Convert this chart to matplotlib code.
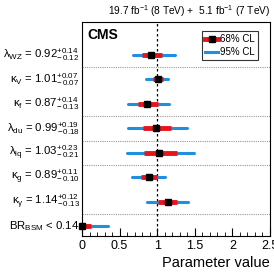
import matplotlib
matplotlib.use("Agg")
import matplotlib.pyplot as plt
from matplotlib.ticker import MultipleLocator, FuncFormatter
from matplotlib.lines import Line2D

plt.rcParams["font.family"] = ["Liberation Sans", "DejaVu Sans"]
plt.rcParams["mathtext.fontset"] = "custom"
plt.rcParams["mathtext.rm"] = "Liberation Sans"
plt.rcParams["mathtext.it"] = "Liberation Sans"
plt.rcParams["mathtext.bf"] = "Liberation Sans:bold"

names = [r"$\lambda_{\mathrm{WZ}}$", r"$\kappa_{\mathrm{V}}$", r"$\kappa_{\mathrm{f}}$", r"$\lambda_{\mathrm{du}}$",
         r"$\lambda_{\mathrm{lq}}$", r"$\kappa_{\mathrm{g}}$", r"$\kappa_{\gamma}$"]
best = [0.92, 1.01, 0.87, 0.99, 1.03, 0.89, 1.14]
up68 = [0.14, 0.07, 0.14, 0.19, 0.23, 0.11, 0.12]
dn68 = [0.12, 0.07, 0.13, 0.18, 0.21, 0.10, 0.13]
lo95 = [0.68, 0.85, 0.61, 0.61, 0.60, 0.67, 0.87]
hi95 = [1.24, 1.15, 1.16, 1.40, 1.49, 1.11, 1.41]
br_best = 0.0
br_68 = 0.12
br_95 = 0.34
br_label = r"BR$_{\mathrm{BSM}}$ < 0.14"
separators = [6.5, 4.5, 3.5, 2.5, 0.5]

fig = plt.figure(figsize=(2.74, 2.72), dpi=100)
ax = fig.add_axes([82/274, 1-236/272, 188/274, 214/272])
ax.set_xlim(0, 2.5)
ax.set_ylim(-0.4, 8.35)

blue = "#1f8fe0"
red = "#e8141a"
n = len(names)
for i in range(n):
    y = n - i
    ax.plot([lo95[i], hi95[i]], [y, y], color=blue, lw=2.2, solid_capstyle="round", zorder=3)
    ax.plot([best[i]-dn68[i], best[i]+up68[i]], [y, y], color=red, lw=3.5, solid_capstyle="butt", zorder=4)
    ax.plot(best[i], y, "s", color="black", ms=5, zorder=5)
    ax.text(-0.03, y, names[i] + r" = %.2f$^{+%.2f}_{-\,%.2f}$" % (best[i], up68[i], dn68[i]),
            ha="right", va="center", fontsize=8.2)
ax.plot([0, br_95], [0, 0], color=blue, lw=2.2, solid_capstyle="round", zorder=3, clip_on=False)
ax.plot([0, br_68], [0, 0], color=red, lw=3.5, solid_capstyle="butt", zorder=4, clip_on=False)
ax.plot(br_best, 0, "s", color="black", ms=5, zorder=5, clip_on=False)
ax.text(-0.03, 0, br_label, ha="right", va="center", fontsize=8.2)

for s in separators:
    ax.axhline(s, color="#999999", lw=0.8, ls=(0, (1, 1)), zorder=1)
ax.axvline(1.0, color="black", lw=0.9, ls=(0, (2, 2)), zorder=2)

ax.set_yticks([])
ax.xaxis.set_major_locator(MultipleLocator(0.5))
ax.xaxis.set_minor_locator(MultipleLocator(0.1))
ax.xaxis.set_major_formatter(FuncFormatter(lambda v, p: "%g" % round(v, 2)))
ax.tick_params(axis="x", which="major", direction="in", length=6, labelsize=9, top=False, pad=3)
ax.tick_params(axis="x", which="minor", direction="in", length=3, top=False)
ax.set_xlabel("Parameter value", fontsize=10.5, loc="right", labelpad=3)

ax.text(0.03, 0.97, "CMS", transform=ax.transAxes, ha="left", va="top",
        fontsize=10, fontweight="bold")
ax.text(1.0, 1.015, r"19.7 fb$^{-1}$ (8 TeV) +  5.1 fb$^{-1}$ (7 TeV)", transform=ax.transAxes,
        ha="right", va="bottom", fontsize=7.3)

h1 = (Line2D([0], [0], color=red, lw=3.5), Line2D([0], [0], marker="s", color="black", ls="", ms=5))
h2 = Line2D([0], [0], color=blue, lw=2.2)
leg = ax.legend([h1, h2], ["68% CL", "95% CL"], loc="upper right", bbox_to_anchor=(0.96, 0.98),
                fontsize=7, frameon=True, fancybox=False, edgecolor="black",
                handlelength=1.3, handletextpad=0.2, borderpad=0.3, labelspacing=0.3)
leg.get_frame().set_linewidth(0.8)

fig.savefig("out.png", dpi=100)
